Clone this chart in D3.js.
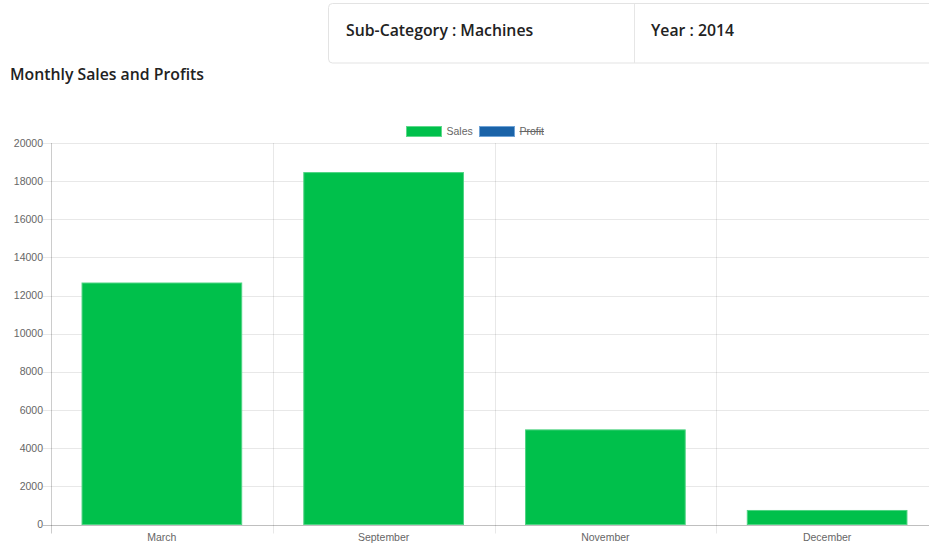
<!DOCTYPE html>
<html><head><meta charset="utf-8">
<script src="https://cdn.jsdelivr.net/npm/d3@7"></script>
<style>
html,body{margin:0;padding:0;background:#fff;width:929px;height:550px;overflow:hidden;}
svg{display:block;}
</style></head>
<body>
<svg id="c" width="929" height="550"></svg>
<script>
const months = ["March", "September", "November", "December"];
const sales = [12660, 18450, 4960, 735];
const profit = [];
const yTicks = [0, 2000, 4000, 6000, 8000, 10000, 12000, 14000, 16000, 18000, 20000];
const subCategory = "Sub-Category : Machines";
const yearLabel = "Year : 2014";
const title = "Monthly Sales and Profits";
const legendItems = [{name:"Sales", fill:"#00c04b", stroke:"#5fd98b", hidden:false},
                     {name:"Profit", fill:"#1a63a8", stroke:"#6fa3d6", hidden:true}];

(function(){
const svg = d3.select("#c");
const uiFont = "'Open Sans', 'Noto Sans', sans-serif";
const chartFont = "'Liberation Sans', Arial, sans-serif";

// header card
svg.append("rect").attr("x",328.5).attr("y",3.5).attr("width",640).attr("height",59.5)
  .attr("rx",4).attr("fill","#fff").attr("stroke","#e3e3e3");
svg.append("line").attr("x1",634.5).attr("x2",634.5).attr("y1",4).attr("y2",63).attr("stroke","#e6e6e6");
svg.append("text").attr("x",346).attr("y",36).attr("font-family",uiFont).attr("font-weight",600)
  .attr("font-size",15.8).attr("fill","#222").text(subCategory);
svg.append("text").attr("x",651).attr("y",36).attr("font-family",uiFont).attr("font-weight",600)
  .attr("font-size",15.8).attr("fill","#222").text(yearLabel);
svg.append("text").attr("x",10).attr("y",79.5).attr("font-family",uiFont).attr("font-weight",600)
  .attr("font-size",15.8).attr("fill","#222").text(title);

// scales
const pLeft = 51, pRight = 938, pTop = 143, pBottom = 524.5;
const x = d3.scaleBand().domain(months).range([pLeft, pRight]).paddingInner(0).paddingOuter(0);
const y = d3.scaleLinear().domain([0, 20000]).range([pBottom, pTop]);

const g = svg.append("g");
// horizontal gridlines
g.selectAll(".hg").data(yTicks).join("line")
  .attr("x1", pLeft-8).attr("x2", pRight)
  .attr("y1", d=>Math.round(y(d))+0.5).attr("y2", d=>Math.round(y(d))+0.5)
  .attr("stroke", d=> d===0 ? "rgba(0,0,0,0.25)" : "rgba(0,0,0,0.09)");
// vertical gridlines
const vx = months.map(m=>x(m)).concat([pRight]);
g.selectAll(".vg").data(vx).join("line")
  .attr("x1", d=>Math.round(d)+0.5).attr("x2", d=>Math.round(d)+0.5)
  .attr("y1", pTop).attr("y2", pBottom+9)
  .attr("stroke", (d,i)=> i===0 ? "rgba(0,0,0,0.2)" : "rgba(0,0,0,0.09)");

// y labels
g.selectAll(".yl").data(yTicks).join("text")
  .attr("x", 43).attr("y", d=>y(d)+3.5).attr("text-anchor","end")
  .attr("font-family",chartFont).attr("font-size",10.5).attr("fill","#666").text(d=>d);

// bars
const bw = x.bandwidth()*0.72;
g.selectAll(".bar").data(sales).join("rect")
  .attr("x",(d,i)=>x(months[i]) + (x.bandwidth()-bw)/2)
  .attr("width", bw)
  .attr("y", d=>y(d)).attr("height", d=>y(0)-y(d))
  .attr("fill","#00c04b").attr("stroke","#4fd483").attr("stroke-width",1);

// x labels
g.selectAll(".xl").data(months).join("text")
  .attr("x", m=>x(m)+x.bandwidth()/2).attr("y", 541).attr("text-anchor","middle")
  .attr("font-family",chartFont).attr("font-size",10.5).attr("fill","#666").text(m=>m);

// legend
const lg = svg.append("g");
const lx = [406.5, 479.5];
legendItems.forEach((it,i)=>{
  lg.append("rect").attr("x",lx[i]).attr("y",126.5).attr("width",35).attr("height",10)
    .attr("fill",it.fill).attr("stroke",it.stroke);
  const t = lg.append("text").attr("x",lx[i]+40).attr("y",135).attr("font-family",chartFont)
    .attr("font-size",10.5).attr("fill","#666").text(it.name);
  if (it.hidden) {
    const w = t.node().getComputedTextLength();
    lg.append("line").attr("x1",lx[i]+40).attr("x2",lx[i]+40+w).attr("y1",131.5).attr("y2",131.5)
      .attr("stroke","#666").attr("stroke-width",1);
  }
});
})();
</script>
</body></html>
